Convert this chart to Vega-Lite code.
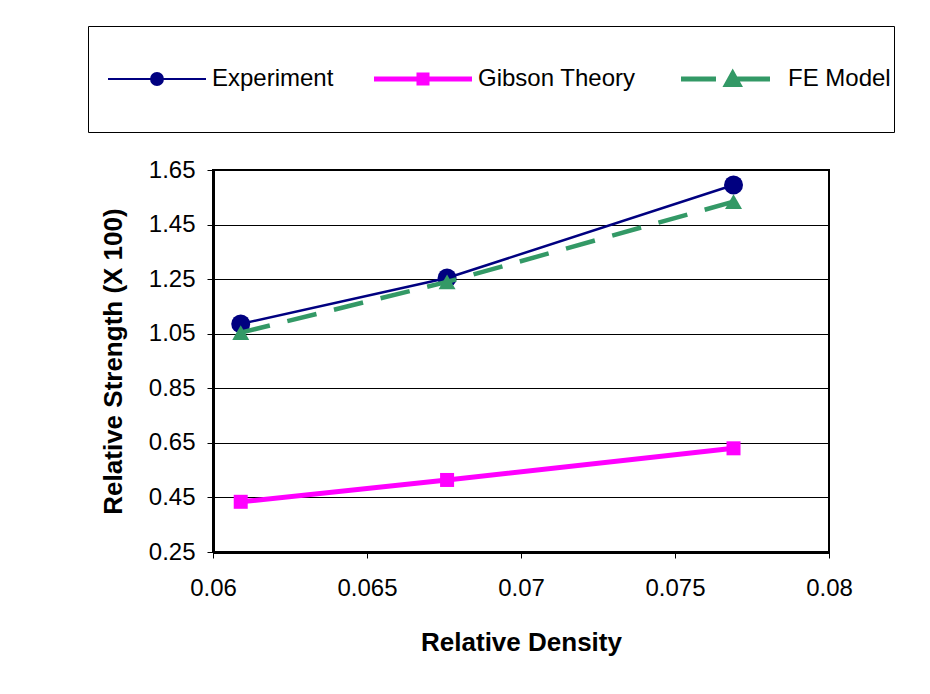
{
  "$schema": "https://vega.github.io/schema/vega-lite/v6.json",
  "width": 616,
  "height": 382,
  "autosize": {"type": "none"},
  "padding": {"left": 213, "top": 170, "right": 101, "bottom": 142},
  "background": "white",
  "config": {
    "view": {"stroke": "black", "strokeWidth": 2},
    "font": "Liberation Sans"
  },
  "data": {
    "values": [
      {"series": "Experiment", "density": 0.0609, "strength": 1.086},
      {"series": "Experiment", "density": 0.0676, "strength": 1.254},
      {"series": "Experiment", "density": 0.0769, "strength": 1.595},
      {"series": "Gibson Theory", "density": 0.0609, "strength": 0.434},
      {"series": "Gibson Theory", "density": 0.0676, "strength": 0.514},
      {"series": "Gibson Theory", "density": 0.0769, "strength": 0.630},
      {"series": "FE Model", "density": 0.0609, "strength": 1.054},
      {"series": "FE Model", "density": 0.0676, "strength": 1.240},
      {"series": "FE Model", "density": 0.0769, "strength": 1.534}
    ]
  },
  "encoding": {
    "x": {
      "field": "density",
      "type": "quantitative",
      "scale": {"domain": [0.06, 0.08], "nice": false, "zero": false},
      "axis": {
        "values": [0.06, 0.065, 0.07, 0.075, 0.08],
        "format": ".3~f",
        "grid": false,
        "domainColor": "black",
        "domainWidth": 3,
        "tickColor": "black",
        "tickSize": 6,
        "labelFontSize": 24,
        "labelColor": "black",
        "labelPadding": 18,
        "labelFlush": false,
        "labelOverlap": false,
        "labelBound": false,
        "title": "Relative Density",
        "titleFontSize": 26,
        "titleFontWeight": "bold",
        "titleColor": "black",
        "titleX": 308,
        "titleY": 90,
        "titleAlign": "center",
        "titleBaseline": "middle"
      }
    },
    "y": {
      "field": "strength",
      "type": "quantitative",
      "scale": {"domain": [0.25, 1.65], "nice": false, "zero": false},
      "axis": {
        "values": [0.25, 0.45, 0.65, 0.85, 1.05, 1.25, 1.45, 1.65],
        "format": ".2f",
        "grid": true,
        "gridColor": "black",
        "gridWidth": 1,
        "gridOpacity": 1,
        "domainColor": "black",
        "domainWidth": 3,
        "tickColor": "black",
        "tickSize": 6,
        "labelFontSize": 24,
        "labelColor": "black",
        "labelPadding": 12,
        "labelOverlap": false,
        "labelBound": false,
        "title": "Relative Strength (X 100)",
        "titleFontSize": 26,
        "titleFontWeight": "bold",
        "titleColor": "black",
        "titleAngle": 270,
        "titleX": -100,
        "titleY": 191,
        "titleAlign": "center",
        "titleBaseline": "middle"
      }
    },
    "color": {
      "field": "series",
      "type": "nominal",
      "scale": {
        "domain": ["Experiment", "Gibson Theory", "FE Model"],
        "range": ["#000080", "#FF00FF", "#339966"]
      },
      "legend": {
        "title": null,
        "orient": "none",
        "legendX": -125,
        "legendY": -144,
        "direction": "horizontal",
        "columns": 3,
        "gridAlign": "each",
        "strokeColor": "black",
        "fillColor": "white",
        "padding": 3,
        "clipHeight": 100,
        "symbolSize": 9604,
        "symbolStrokeWidth": 2,
        "symbolOffset": 54,
        "labelOffset": 43,
        "columnPadding": 23,
        "labelFontSize": 24,
        "labelColor": "black",
        "labelLimit": 400,
        "encode": {
          "labels": {
            "update": {
              "dx": {"signal": "datum.value == 'FE Model' ? 8 : 0"}
            }
          },
          "symbols": {
            "update": {
              "shape": {"signal": "datum.value == 'Experiment' ? 'M-1,0H1M0.122,0A0.122,0.122,0,1,1,-0.122,0A0.122,0.122,0,1,1,0.122,0Z' : datum.value == 'Gibson Theory' ? 'M-1,0H1M-0.082,-0.082H0.082V0.082H-0.082Z' : 'M-0.898,0H-0.184M0.224,0H0.918M0.035,0.11L0.157,-0.11L0.28,0.11Z'"},
              "strokeWidth": {"signal": "datum.value == 'Experiment' ? 2 : 5"},
              "fill": {"scale": "color", "field": "value"},
              "stroke": {"scale": "color", "field": "value"},
              "opacity": {"value": 1},
              "fillOpacity": {"value": 1},
              "strokeOpacity": {"value": 1}
            }
          }
        }
      }
    }
  },
  "layer": [
    {
      "transform": [{"filter": "datum.series == 'Experiment'"}],
      "mark": {"type": "line", "strokeWidth": 2.5}
    },
    {
      "transform": [{"filter": "datum.series == 'Experiment'"}],
      "mark": {"type": "point", "shape": "circle", "size": 361, "filled": true, "opacity": 1}
    },
    {
      "transform": [{"filter": "datum.series == 'Gibson Theory'"}],
      "mark": {"type": "line", "strokeWidth": 5}
    },
    {
      "transform": [{"filter": "datum.series == 'Gibson Theory'"}],
      "mark": {"type": "point", "shape": "square", "size": 196, "filled": true, "opacity": 1}
    },
    {
      "transform": [{"filter": "datum.series == 'FE Model'"}],
      "mark": {"type": "line", "strokeWidth": 4.5, "strokeDash": [30, 18]}
    },
    {
      "transform": [{"filter": "datum.series == 'FE Model'"}],
      "mark": {"type": "point", "shape": "triangle-up", "size": 289, "filled": true, "opacity": 1}
    }
  ]
}
